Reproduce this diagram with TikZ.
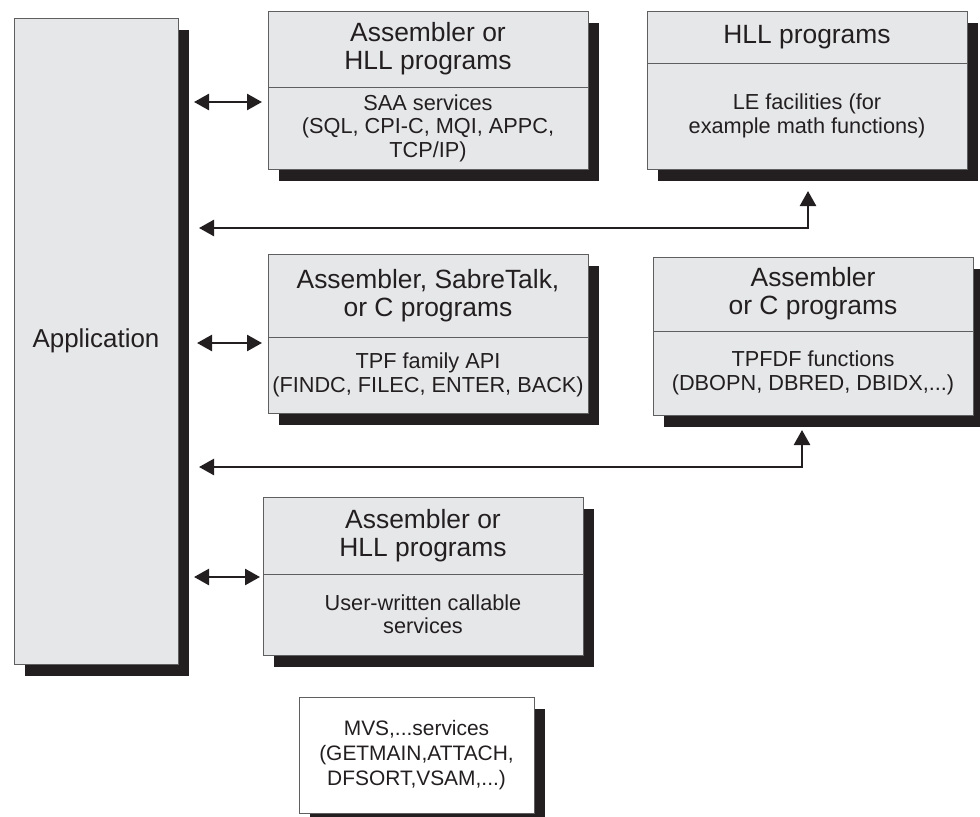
\documentclass[tikz,border=0pt]{standalone}
\usepackage{fontspec}
\setmainfont{Liberation Sans}
\usetikzlibrary{positioning, arrows.meta, shadows}
\definecolor{boxgray}{RGB}{230,231,233}
\definecolor{inkblack}{RGB}{35,31,32}
\definecolor{edgegray}{RGB}{95,95,95}
\tikzset{
  shadebox/.style={
    draw=edgegray, line width=0.9bp, fill=boxgray, text=inkblack,
    inner sep=0pt, outer sep=0pt, anchor=north west, align=center,
    minimum width=320bp,
    general shadow={fill=inkblack, shadow xshift=11bp, shadow yshift=-12bp}
  },
  head/.style={shadebox, font=\fontsize{26.5}{28}\selectfont},
  body/.style={shadebox, font=\fontsize{21.8}{23.5}\selectfont},
  link/.style={draw=inkblack, line width=2.5bp,
    {Triangle[length=15bp,width=16bp]}-{Triangle[length=15bp,width=16bp]}}
}

\begin{document}
\begin{tikzpicture}[x=1bp, y=-1bp]
    \useasboundingbox (0,0) rectangle (980,817);

    \node[shadebox, minimum width=164bp, minimum height=646bp,
          font=\fontsize{26}{28}\selectfont] (app) at (14,18) {Application};

    % SAA services
    \node[head, minimum height=76bp] (saa) at (268,11) {Assembler or\\HLL programs};
    \node[body, minimum height=82bp, below=0pt of saa] (saab)
        {SAA services\\(SQL, CPI-C, MQI, APPC,\\TCP/IP)};

    % LE facilities
    \node[head, minimum height=52bp] (le) at (647,11) {HLL programs};
    \node[body, minimum height=106bp, below=0pt of le] (leb)
        {LE facilities (for\\example math functions)};

    % TPF family API
    \node[head, minimum height=83bp] (tpf) at (268,254) {Assembler, SabreTalk,\\or C programs};
    \node[body, minimum height=76bp, below=0pt of tpf] (tpfb)
        {TPF family API\\(FINDC, FILEC, ENTER, BACK)};

    % TPFDF functions
    \node[head, minimum height=74bp] (df) at (653,257) {Assembler\\or C programs};
    \node[body, minimum height=84bp, below=0pt of df] (dfb)
        {TPFDF functions\\(DBOPN, DBRED, DBIDX,...)};

    % user-written services
    \node[head, minimum height=77bp] (usr) at (263,497) {Assembler or\\HLL programs};
    \node[body, minimum height=81bp, below=0pt of usr] (usrb)
        {User-written callable\\services};

    % MVS services
    \node[body, fill=white, minimum width=235bp, minimum height=116bp,
          font=\fontsize{21}{25}\selectfont] (mvs) at (299,697)
        {MVS,...services\\(GETMAIN,ATTACH,\\DFSORT,VSAM,...)};

    \draw[link] ([xshift=16bp,yshift=-15bp]app.east |- saab.north west)
             -- ([xshift=-6bp,yshift=-15bp]saab.north west);
    \draw[link] ([xshift=19bp,yshift=-6bp]app.east |- tpfb.north west)
             -- ([xshift=-6bp,yshift=-6bp]tpfb.north west);
    \draw[link] ([xshift=16bp,yshift=-3bp]app.east |- usrb.north west)
             -- ([xshift=-3bp,yshift=-3bp]usrb.north west);

    \draw[link] ([xshift=21bp]app.east |- 0,228) -| ([xshift=1bp,yshift=-22bp]leb.south);
    \draw[link] ([xshift=21bp]app.east |- 0,467) -| ([xshift=-11bp,yshift=-15bp]dfb.south);
\end{tikzpicture}
\end{document}
